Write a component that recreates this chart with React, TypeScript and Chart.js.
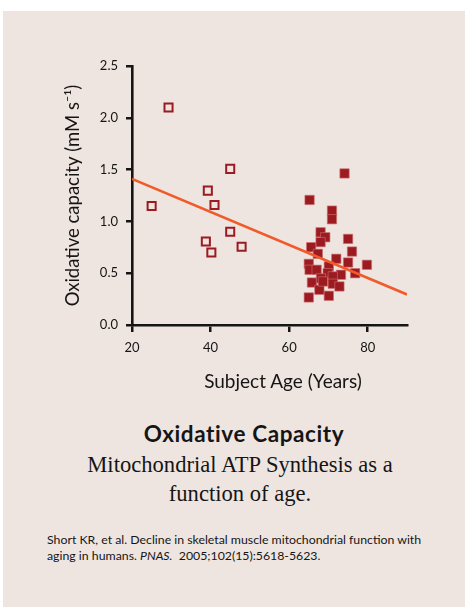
import React, { useEffect, useRef } from "react";
import { Chart, registerables } from "chart.js";

Chart.register(...registerables);

const YOUNG_AGE = [29.3, 25.0, 45.0, 39.3, 41.0, 45.0, 38.8, 40.2, 47.9];
const YOUNG_OX = [2.1, 1.148, 1.507, 1.297, 1.159, 0.9, 0.806, 0.7, 0.756];

const OLD_AGE = [74.1, 65.2, 70.9, 70.9, 68.0, 69.2, 75.0, 68.0, 65.6, 76.0, 67.3, 72.0, 75.0, 79.8, 65.0, 65.2, 67.0, 70.1, 69.8, 73.2, 76.8, 65.8, 68.1, 71.1, 71.1, 72.8, 67.7, 70.1, 65.0, 68.6];
const OLD_OX = [1.463, 1.207, 1.104, 1.021, 0.895, 0.847, 0.831, 0.8, 0.751, 0.709, 0.687, 0.639, 0.603, 0.581, 0.59, 0.533, 0.533, 0.565, 0.5, 0.485, 0.5, 0.41, 0.45, 0.469, 0.398, 0.372, 0.34, 0.282, 0.266, 0.42];

const FIT_X = [20, 90];
const FIT_Y = [1.41, 0.295];

const X_TICKS = [20, 40, 60, 80];
const Y_TICKS = [0, 0.5, 1.0, 1.5, 2.0, 2.5];

const X_TITLE = "Subject Age (Years)";
const Y_TITLE = "Oxidative capacity (mM s\u207B\u00B9)";

const BG = "#efe5e0";
const RED = "#9b1b21";
const ORANGE = "#f15a29";
const INK = "#151515";

export default function App() {
  const ref = useRef<HTMLCanvasElement | null>(null);

  useEffect(() => {
    if (!ref.current) return;
    const chart = new Chart(ref.current, {
      type: "scatter",
      data: {
        datasets: [
          {
            label: "Young",
            data: YOUNG_AGE.map((x, i) => ({ x, y: YOUNG_OX[i] })),
            pointStyle: "rect",
            pointRadius: 5.7,
            pointBackgroundColor: BG,
            pointBorderColor: RED,
            pointBorderWidth: 2,
            order: 2,
          },
          {
            label: "Older",
            data: OLD_AGE.map((x, i) => ({ x, y: OLD_OX[i] })),
            pointStyle: "rect",
            pointRadius: 6.6,
            pointBackgroundColor: RED,
            pointBorderColor: "rgba(205,110,112,0.8)",
            pointBorderWidth: 0.8,
            order: 2,
          },
          {
            type: "line",
            label: "Fit",
            data: FIT_X.map((x, i) => ({ x, y: FIT_Y[i] })),
            borderColor: ORANGE,
            borderWidth: 2.6,
            pointRadius: 0,
            showLine: true,
            fill: false,
            order: 1,
          } as any,
        ],
      },
      options: {
        animation: false,
        responsive: false,
        events: [],
        layout: { padding: { left: 54, right: 58, top: 66, bottom: 0 } },
        plugins: {
          legend: { display: false },
          tooltip: { enabled: false },
        },
        scales: {
          x: {
            type: "linear",
            min: 20,
            max: 90,
            afterBuildTicks: (s: any) => {
              s.ticks = X_TICKS.map((v) => ({ value: v }));
            },
            afterFit: (s: any) => {
              s.height = 75;
            },
            grid: {
              drawOnChartArea: false,
              drawTicks: true,
              tickLength: 7,
              color: INK,
              lineWidth: 2.5,
            },
            border: { display: true, color: INK, width: 2.6 },
            ticks: {
              color: INK,
              padding: 8,
              font: { family: "Lato", size: 13 },
              maxRotation: 0,
            },
          },
          y: {
            type: "linear",
            min: 0,
            max: 2.5,
            afterBuildTicks: (s: any) => {
              s.ticks = Y_TICKS.map((v) => ({ value: v }));
            },
            afterFit: (s: any) => {
              s.width = 78;
            },
            grid: {
              drawOnChartArea: false,
              drawTicks: true,
              tickLength: 6,
              color: INK,
              lineWidth: 2.5,
            },
            border: { display: true, color: INK, width: 2.6 },
            ticks: {
              color: INK,
              padding: 8,
              font: { family: "Lato", size: 13 },
              callback: (v: any) => Number(v).toFixed(1),
            },
            title: {
              display: true,
              text: Y_TITLE,
              color: INK,
              font: { family: "Lato", size: 18.5 },
              padding: { top: 8, bottom: 0 },
            },
          },
        },
      },
    });
    return () => chart.destroy();
  }, []);

  return (
    <div style={{ position: "absolute", left: 0, top: 0, width: 465, height: 607, background: "#ffffff", overflow: "hidden" }}>
      <div style={{ position: "absolute", left: 3, top: 11, width: 462, height: 596, background: BG }} />
      <canvas ref={ref} width={465} height={400} style={{ position: "absolute", left: 0, top: 0, width: 465, height: 400, display: "block" }} />
      <div style={{ position: "absolute", left: 163, top: 369, width: 240, textAlign: "center", fontFamily: "Lato", fontSize: 19, lineHeight: "23px", color: INK, whiteSpace: "nowrap" }}>
        {X_TITLE}
      </div>
      <div style={{ position: "absolute", left: 74, top: 421, width: 340, textAlign: "center", fontFamily: "Lato", fontWeight: 700, fontSize: 22.5, lineHeight: "26px", letterSpacing: "0.6px", color: INK, whiteSpace: "nowrap" }}>
        Oxidative Capacity
      </div>
      <div style={{ position: "absolute", left: 20, top: 450, width: 440, textAlign: "center", fontFamily: "'Liberation Serif', serif", fontSize: 22.6, lineHeight: "29px", color: INK }}>
        <div>Mitochondrial ATP Synthesis as a</div>
        <div>function of age.</div>
      </div>
      <div style={{ position: "absolute", left: 47, top: 532, width: 420, fontFamily: "Lato", fontSize: 12.3, lineHeight: "16px", color: INK }}>
        <div style={{ whiteSpace: "nowrap" }}>Short KR, et al. Decline in skeletal muscle mitochondrial function with</div>
        <div style={{ whiteSpace: "nowrap" }}>
          aging in humans. <i>PNAS.</i>&nbsp; 2005;102(15):5618-5623.
        </div>
      </div>
    </div>
  );
}
